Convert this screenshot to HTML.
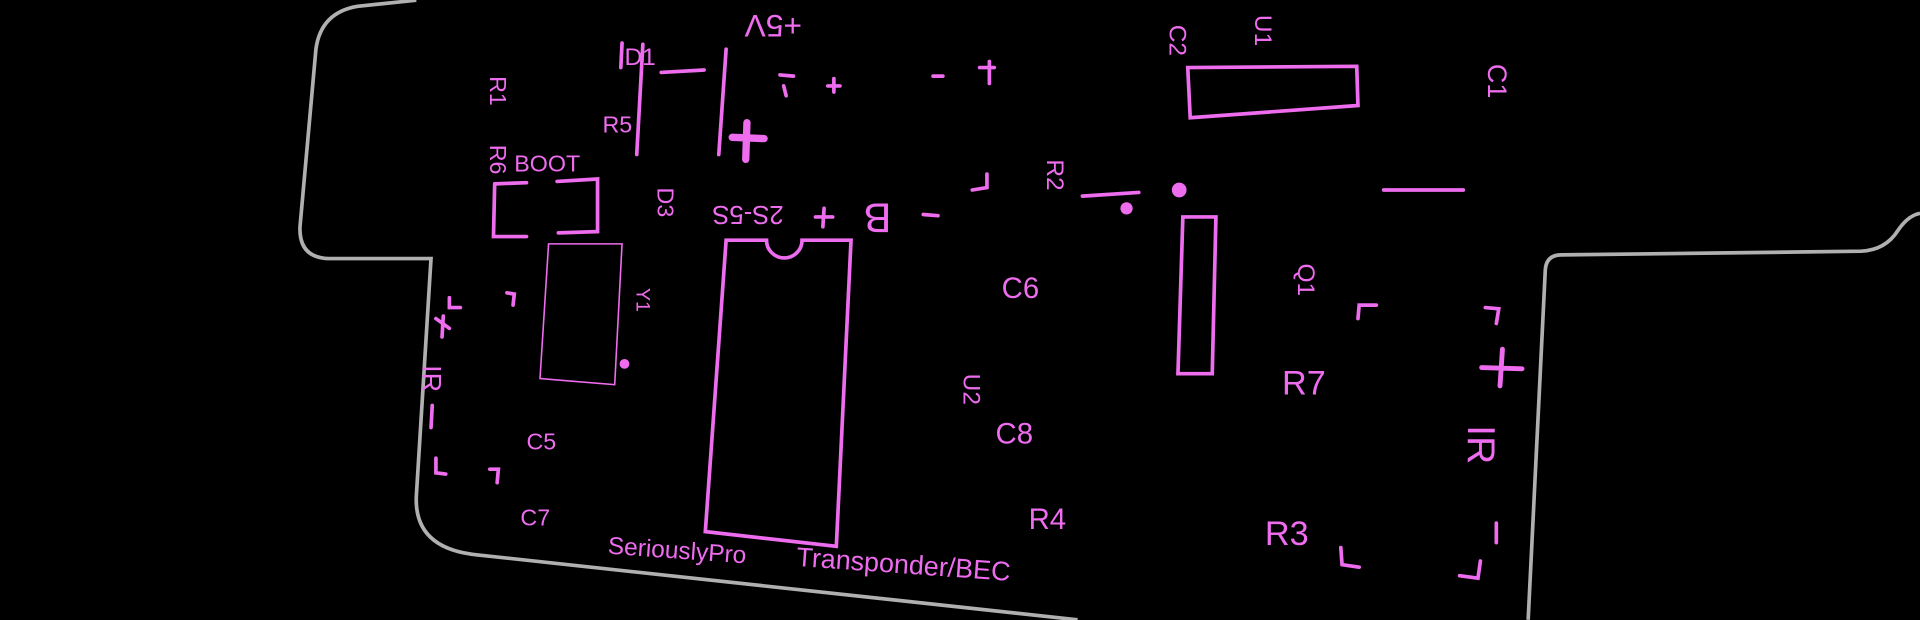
<!DOCTYPE html>
<html><head><style>
html,body{margin:0;padding:0;background:#000;width:1920px;height:620px;overflow:hidden}
svg{display:block}
text{font-family:"Liberation Sans",sans-serif;fill:#ee6cee}
</style></head><body>
<svg width="1920" height="620" viewBox="0 0 1568 506" xmlns="http://www.w3.org/2000/svg">
<g fill="none" stroke="#b0b0b0" stroke-width="3">
<path d="M340,0 L292,5 Q262,10 258,40 L245,185 Q244,210 268,211 L352,211 L340,405 Q338,448 390,453 L880,506"/>
<path d="M1248,506 L1262,220 Q1263,208 1275,208 L1520,205 Q1540,204 1550,188 Q1558,176 1568,174"/>
</g>
<g stroke="#ee6cee" stroke-width="3" fill="none" stroke-linecap="round">
<path d="M540,59 L575,57"/>
<path d="M525,36 L520,126"/>
<path d="M593,40 L587,126"/>
<path d="M598,112 L624,113 M610,100 L609,130" stroke-width="6"/>
<path d="M637,61 L648,62 M640,70 L642,78"/>
<path d="M800,55 L812,55 M808,50 L808,68"/>
<path d="M970,55 L1108,54 L1109,86 L972,96 Z"/>
<path d="M1130,155 L1195,155"/>
<path d="M884,160 L930,157"/>
<path d="M794,155 L806,153 L806,142"/>
<path d="M966,177 L993,177 L990,305 L962,305 Z"/>
<path d="M404,150 L430,149 M404,150 L403,193 L430,193 M455,148 L488,146 L488,189 L456,190"/>
<path d="M593,196 L626,196 A13,13 0 0 0 655,196 L695,196 L683,446 L576,434 Z"/>
<path d="M367,243 L367,251 L376,251"/>
<path d="M414,239 L420,240 L419,249"/>
<path d="M356,374 L356,386 L364,387"/>
<path d="M400,383 L407,383 L406,394"/>
<path d="M1109,260 L1110,249 L1124,249"/>
<path d="M1213,251 L1224,252 L1222,264"/>
<path d="M1210,300 L1243,301 M1227,285 L1225,315" stroke-width="4"/>
<path d="M1095,447 L1096,461 L1110,463"/>
<path d="M1192,470 L1207,472 L1209,458"/>
<path d="M1222,427 L1222,443"/>
<path d="M353,331 L352,349"/>
<path d="M356,260 L367,268 M362,258 L361,275"/>
<path d="M666,177 L680,177 M673,170 L672,185"/>
<path d="M754,175 L766,176"/>
<path d="M762,62 L770,62"/>
<path d="M676,70 L686,70 M681,64 L681,75"/>
<path d="M508,35 L507,55"/>
</g>
<g stroke="#ee6cee" stroke-width="1.3" fill="none"><path d="M448,199 L508,199 L502,314 L441,309 Z"/></g>
<g fill="#ee6cee"><circle cx="510" cy="297" r="4"/><circle cx="963" cy="155" r="6"/><circle cx="920" cy="170" r="5"/></g>
<g font-size="19">
<text x="420" y="140">BOOT</text>
<text x="492" y="108">R5</text>
<text x="510" y="53" font-size="20">D1</text>
<text x="430" y="367">C5</text>
<text x="425" y="429">C7</text>
<text x="818" y="243" font-size="24">C6</text>
<text x="813" y="362" font-size="24">C8</text>
<text x="840" y="432" font-size="24">R4</text>
<text x="1047" y="322" font-size="28">R7</text>
<text x="1033" y="445" font-size="28">R3</text>
<text x="496" y="452" transform="rotate(4 496 452)" font-size="20">SeriouslyPro</text>
<text x="650" y="462" transform="rotate(4 650 462)" font-size="22">Transponder/BEC</text>
<text x="0" y="0" transform="translate(400,62) rotate(90)">R1</text>
<text x="0" y="0" transform="translate(400,118) rotate(90)">R6</text>
<text x="0" y="0" transform="translate(537,153) rotate(90)">D3</text>
<text x="0" y="0" transform="translate(655,12) rotate(180)" font-size="26">+5V</text>
<text x="0" y="0" transform="translate(640,168) rotate(180)" font-size="21">2S-5S</text>
<text x="0" y="0" transform="translate(728,166) rotate(180)" font-size="34">B</text>
<text x="0" y="0" transform="translate(855,130) rotate(90)" font-size="20">R2</text>
<text x="0" y="0" transform="translate(955,20) rotate(90)" font-size="20">C2</text>
<text x="0" y="0" transform="translate(1025,12) rotate(90)" font-size="20">U1</text>
<text x="0" y="0" transform="translate(1215,52) rotate(90)" font-size="22">C1</text>
<text x="0" y="0" transform="translate(1060,215) rotate(90)" font-size="20">Q1</text>
<text x="0" y="0" transform="translate(787,305) rotate(90)" font-size="20">U2</text>
<text x="0" y="0" transform="translate(520,235) rotate(90)" font-size="16">Y1</text>
<text x="0" y="0" transform="translate(345,298) rotate(90)" font-size="22">IR</text>
<text x="0" y="0" transform="translate(1199,347) rotate(90)" font-size="32">IR</text>
</g>
</svg>
</body></html>
